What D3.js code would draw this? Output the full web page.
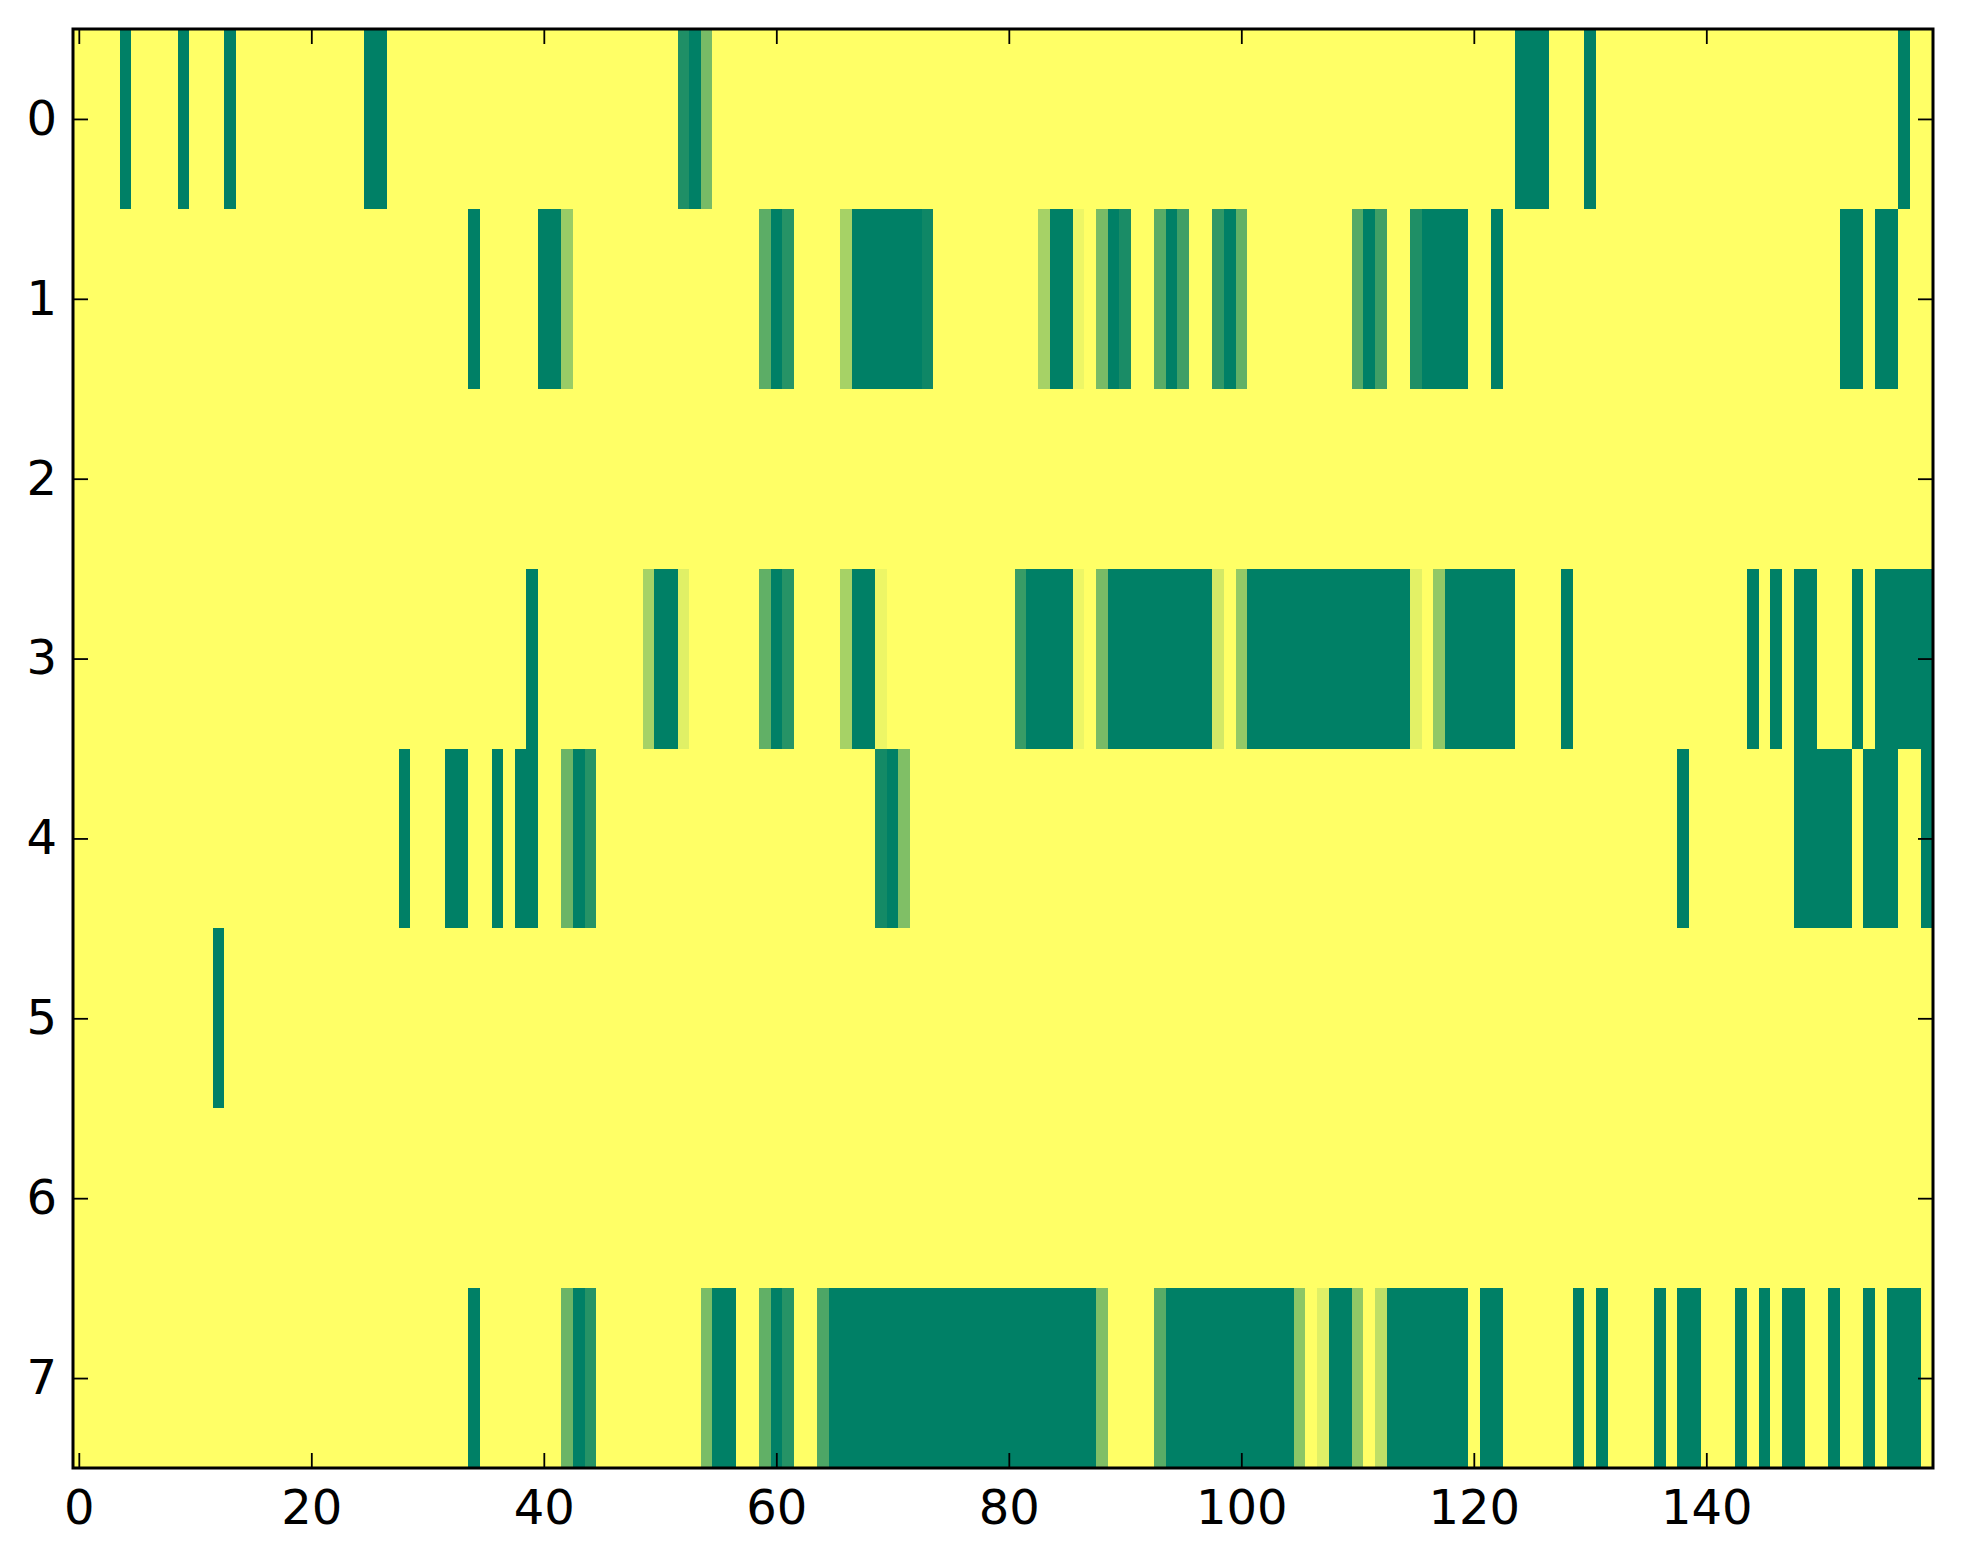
<!DOCTYPE html>
<html>
<head>
<meta charset="utf-8">
<script src="https://cdn.jsdelivr.net/npm/d3@7"></script>
<style>
  body { margin: 0; background: white; }
  .axis text { font-family: "DejaVu Sans", sans-serif; font-size: 48px; fill: black; }
  .axis line { stroke: black; stroke-width: 1.8; }
</style>
</head>
<body>
<div id="chart-area"></div>
<script>
// one array per image row, 160 cells each (1 = yellow, 0 = green)
const row0 = [
  1,1,1,1,0,1,1,1,1,0,
  1,1,1,0,1,1,1,1,1,1,
  1,1,1,1,1,0,0,1,1,1,
  1,1,1,1,1,1,1,1,1,1,
  1,1,1,1,1,1,1,1,1,1,
  1,1,0.12,0,0.47,1,1,1,1,1,
  1,1,1,1,1,1,1,1,1,1,
  1,1,1,1,1,1,1,1,1,1,
  1,1,1,1,1,1,1,1,1,1,
  1,1,1,1,1,1,1,1,1,1,
  1,1,1,1,1,1,1,1,1,1,
  1,1,1,1,1,1,1,1,1,1,
  1,1,1,1,0,0,0,1,1,1,
  0,1,1,1,1,1,1,1,1,1,
  1,1,1,1,1,1,1,1,1,1,
  1,1,1,1,1,1,1,0,1,1
];
const row1 = [
  1,1,1,1,1,1,1,1,1,1,
  1,1,1,1,1,1,1,1,1,1,
  1,1,1,1,1,1,1,1,1,1,
  1,1,1,1,0,1,1,1,1,1,
  0,0,0.6,1,1,1,1,1,1,1,
  1,1,1,1,1,1,1,1,1,0.36,
  0,0.15,1,1,1,1,0.65,0,0,0,
  0,0,0,0.06,1,1,1,1,1,1,
  1,1,1,0.65,0,0,0.93,1,0.47,0,
  0.1,1,1,0.35,0,0.25,1,1,0.19,0,
  0.38,1,1,1,1,1,1,1,1,1,
  0.33,0,0.25,1,1,0.12,0,0,0,0,
  1,1,0,1,1,1,1,1,1,1,
  1,1,1,1,1,1,1,1,1,1,
  1,1,1,1,1,1,1,1,1,1,
  1,1,0,0,1,0,0,1,1,1
];
const row2 = [
  1,1,1,1,1,1,1,1,1,1,
  1,1,1,1,1,1,1,1,1,1,
  1,1,1,1,1,1,1,1,1,1,
  1,1,1,1,1,1,1,1,1,1,
  1,1,1,1,1,1,1,1,1,1,
  1,1,1,1,1,1,1,1,1,1,
  1,1,1,1,1,1,1,1,1,1,
  1,1,1,1,1,1,1,1,1,1,
  1,1,1,1,1,1,1,1,1,1,
  1,1,1,1,1,1,1,1,1,1,
  1,1,1,1,1,1,1,1,1,1,
  1,1,1,1,1,1,1,1,1,1,
  1,1,1,1,1,1,1,1,1,1,
  1,1,1,1,1,1,1,1,1,1,
  1,1,1,1,1,1,1,1,1,1,
  1,1,1,1,1,1,1,1,1,1
];
const row3 = [
  1,1,1,1,1,1,1,1,1,1,
  1,1,1,1,1,1,1,1,1,1,
  1,1,1,1,1,1,1,1,1,1,
  1,1,1,1,1,1,1,1,1,0,
  1,1,1,1,1,1,1,1,1,0.65,
  0,0,0.88,1,1,1,1,1,1,0.38,
  0,0.15,1,1,1,1,0.65,0,0,0.93,
  1,1,1,1,1,1,1,1,1,1,
  1,0.22,0,0,0,0,0.93,1,0.47,0,
  0,0,0,0,0,0,0,0,0.83,1,
  0.58,0,0,0,0,0,0,0,0,0,
  0,0,0,0,0,0.89,1,0.57,0,0,
  0,0,0,0,1,1,1,1,0,1,
  1,1,1,1,1,1,1,1,1,1,
  1,1,1,1,0,1,0,1,0,0,
  1,1,1,0,1,0,0,0,0,0
];
const row4 = [
  1,1,1,1,1,1,1,1,1,1,
  1,1,1,1,1,1,1,1,1,1,
  1,1,1,1,1,1,1,1,0,1,
  1,1,0,0,1,1,0,1,0,0,
  1,1,0.42,0,0.15,1,1,1,1,1,
  1,1,1,1,1,1,1,1,1,1,
  1,1,1,1,1,1,1,1,1,0.08,
  0,0.5,1,1,1,1,1,1,1,1,
  1,1,1,1,1,1,1,1,1,1,
  1,1,1,1,1,1,1,1,1,1,
  1,1,1,1,1,1,1,1,1,1,
  1,1,1,1,1,1,1,1,1,1,
  1,1,1,1,1,1,1,1,1,1,
  1,1,1,1,1,1,1,1,0,1,
  1,1,1,1,1,1,1,1,0,0,
  0,0,0,1,0,0,0,1,1,0
];
const row5 = [
  1,1,1,1,1,1,1,1,1,1,
  1,1,0,1,1,1,1,1,1,1,
  1,1,1,1,1,1,1,1,1,1,
  1,1,1,1,1,1,1,1,1,1,
  1,1,1,1,1,1,1,1,1,1,
  1,1,1,1,1,1,1,1,1,1,
  1,1,1,1,1,1,1,1,1,1,
  1,1,1,1,1,1,1,1,1,1,
  1,1,1,1,1,1,1,1,1,1,
  1,1,1,1,1,1,1,1,1,1,
  1,1,1,1,1,1,1,1,1,1,
  1,1,1,1,1,1,1,1,1,1,
  1,1,1,1,1,1,1,1,1,1,
  1,1,1,1,1,1,1,1,1,1,
  1,1,1,1,1,1,1,1,1,1,
  1,1,1,1,1,1,1,1,1,1
];
const row6 = [
  1,1,1,1,1,1,1,1,1,1,
  1,1,1,1,1,1,1,1,1,1,
  1,1,1,1,1,1,1,1,1,1,
  1,1,1,1,1,1,1,1,1,1,
  1,1,1,1,1,1,1,1,1,1,
  1,1,1,1,1,1,1,1,1,1,
  1,1,1,1,1,1,1,1,1,1,
  1,1,1,1,1,1,1,1,1,1,
  1,1,1,1,1,1,1,1,1,1,
  1,1,1,1,1,1,1,1,1,1,
  1,1,1,1,1,1,1,1,1,1,
  1,1,1,1,1,1,1,1,1,1,
  1,1,1,1,1,1,1,1,1,1,
  1,1,1,1,1,1,1,1,1,1,
  1,1,1,1,1,1,1,1,1,1,
  1,1,1,1,1,1,1,1,1,1
];
const row7 = [
  1,1,1,1,1,1,1,1,1,1,
  1,1,1,1,1,1,1,1,1,1,
  1,1,1,1,1,1,1,1,1,1,
  1,1,1,1,0,1,1,1,1,1,
  1,1,0.42,0,0.15,1,1,1,1,1,
  1,1,1,1,0.48,0,0,1,1,0.38,
  0,0.15,1,1,0.3,0,0,0,0,0,
  0,0,0,0,0,0,0,0,0,0,
  0,0,0,0,0,0,0,0,0.5,1,
  1,1,1,0.35,0,0,0,0,0,0,
  0,0,0,0,0,0.55,1,0.88,0,0,
  0.57,1,0.75,0,0,0,0,0,0,0,
  1,0,0,1,1,1,1,1,1,0,
  1,0,1,1,1,1,0,1,0,0,
  1,1,1,0,1,0,1,0,0,1,
  1,0,1,1,0,1,0,0,0,1
];
const rows = [row0, row1, row2, row3, row4, row5, row6, row7];

const xTicks = [0, 20, 40, 60, 80, 100, 120, 140];
const yTicks = [0, 1, 2, 3, 4, 5, 6, 7];

var width = 1963, height = 1564;
var plot = { left: 73, right: 1933, top: 29, bottom: 1468 };

let svg = d3.select("#chart-area").append("svg")
  .attr("width", width)
  .attr("height", height);

svg.append("rect")
  .attr("width", width)
  .attr("height", height)
  .attr("fill", "white");

// cells are centred on integer coordinates like imshow
let xScale = d3.scaleLinear()
  .domain([-0.5, row0.length - 0.5])
  .range([plot.left, plot.right]);
let yScale = d3.scaleLinear()
  .domain([-0.5, rows.length - 0.5])
  .range([plot.top, plot.bottom]);

// matplotlib "summer" colormap
function summer(v) {
  return d3.rgb(255 * v, 255 * (0.5 + 0.5 * v), 102).toString();
}

let cells = [];
rows.forEach((r, j) => r.forEach((v, i) => cells.push({ i: i, j: j, v: v })));

svg.append("g")
  .selectAll("rect")
  .data(cells)
  .enter()
  .append("rect")
  .attr("x", d => xScale(d.i - 0.5))
  .attr("y", d => yScale(d.j - 0.5))
  .attr("width", d => xScale(d.i + 0.5) - xScale(d.i - 0.5) + 0.5)
  .attr("height", d => yScale(d.j + 0.5) - yScale(d.j - 0.5) + 0.5)
  .attr("fill", d => summer(d.v))
  .attr("shape-rendering", "crispEdges");

// inward ticks on all four sides
let tickLen = 15;
svg.append("g")
  .attr("class", "axis")
  .attr("transform", `translate(0, ${plot.bottom})`)
  .call(d3.axisBottom(xScale).tickValues(xTicks).tickSizeInner(-tickLen).tickSizeOuter(0).tickPadding(22))
  .call(g => g.select(".domain").remove());
svg.append("g")
  .attr("class", "axis")
  .attr("transform", `translate(0, ${plot.top})`)
  .call(d3.axisTop(xScale).tickValues(xTicks).tickSizeInner(-tickLen).tickSizeOuter(0).tickFormat(""))
  .call(g => g.select(".domain").remove());
svg.append("g")
  .attr("class", "axis")
  .attr("transform", `translate(${plot.left}, 0)`)
  .call(d3.axisLeft(yScale).tickValues(yTicks).tickSizeInner(-tickLen).tickSizeOuter(0).tickPadding(16))
  .call(g => g.select(".domain").remove());
svg.append("g")
  .attr("class", "axis")
  .attr("transform", `translate(${plot.right}, 0)`)
  .call(d3.axisRight(yScale).tickValues(yTicks).tickSizeInner(-tickLen).tickSizeOuter(0).tickFormat(""))
  .call(g => g.select(".domain").remove());

// frame
svg.append("rect")
  .attr("x", plot.left)
  .attr("y", plot.top)
  .attr("width", plot.right - plot.left)
  .attr("height", plot.bottom - plot.top)
  .attr("fill", "none")
  .attr("stroke", "black")
  .attr("stroke-width", 3);
</script>
</body>
</html>
